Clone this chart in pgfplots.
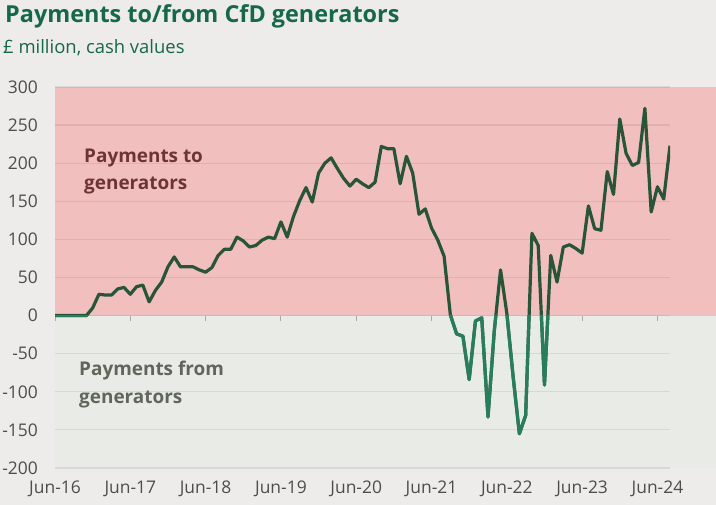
\documentclass[border=0pt]{standalone}
\usepackage{pgfplots}
\pgfplotsset{compat=1.18}
\usepackage{pgfplotstable}
\usepackage{fontspec}
\setmainfont{Open Sans}
\definecolor{figbg}{RGB}{238,236,234}
\definecolor{posbg}{RGB}{242,191,191}
\definecolor{negbg}{RGB}{233,236,230}
\definecolor{titlegreen}{RGB}{22,104,74}
\definecolor{ticktext}{RGB}{77,77,77}
\definecolor{tolabel}{RGB}{110,52,52}
\definecolor{fromlabel}{RGB}{95,102,92}
\definecolor{linedark}{RGB}{40,84,56}
\definecolor{linelight}{RGB}{40,125,92}
\definecolor{tickgray}{RGB}{170,170,170}

\pgfplotstableread{
m v
0 0
1 0
2 0
3 0
4 0
5 0
6 10
7 28
8 27
9 27
10 35
11 37
12 28
13 38
14 40
15 18
16 33
17 44
18 64
19 77
20 64
21 64
22 64
23 60
24 57
25 63
26 79
27 87
28 87
29 103
30 98
31 90
32 92
33 99
34 103
35 101
36 123
37 103
38 130
39 151
40 168
41 149
42 187
43 200
44 207
45 193
46 180
47 170
48 179
49 173
50 168
51 175
52 222
53 219
54 219
55 173
56 209
57 187
58 133
59 140
60 115
61 99
62 78
63 1
64 -24
65 -27
66 -84
67 -7
68 -3
69 -133
70 -20
71 60
72 3
73 -80
74 -155
75 -131
76 108
77 92
78 -91
79 79
80 44
81 90
82 93
83 88
84 82
85 144
86 114
87 112
88 189
89 159
90 258
91 213
92 197
93 201
94 272
95 136
96 169
97 153
98 223
}\datatable

\begin{document}
\begin{tikzpicture}
\fill[figbg] (0bp,0bp) rectangle (716bp,505bp);
\fill[posbg] (55bp,189.4bp) rectangle (716bp,418bp);
\fill[negbg] (55bp,37bp) rectangle (716bp,189.4bp);
\begin{axis}[
  at={(55bp,37bp)}, anchor=south west,
  scale only axis, width=615bp, height=381bp,
  xmin=0, xmax=98, ymin=-200, ymax=300,
  axis line style={draw=none},
  major tick style={draw=none},
  ytick={-200,-150,-100,-50,0,50,100,150,200,250,300},
  xtick={0,12,24,36,48,60,72,84,96},
  xticklabels={Jun-16,Jun-17,Jun-18,Jun-19,Jun-20,Jun-21,Jun-22,Jun-23,Jun-24},
  ymajorgrids,
  grid style={black, opacity=0.08, line width=1.2bp},
  /pgf/number format/assume math mode=true,
  ticklabel style={font=\fontsize{17.5}{17.5}\selectfont, text=ticktext},
  yticklabel style={inner sep=0pt, anchor=east, xshift=-17bp},
  xticklabel style={inner sep=0pt, anchor=north, yshift=-13bp},
  scaled y ticks=false,
]
\addplot[linedark, line width=3.2bp, line join=round, no marks] table[x=m, y=v] {\datatable};
\pgfplotsinvokeforeach{0,12,24,36,48,60,72,84,96}{
  \draw[tickgray, line width=0.9bp] (axis cs:#1,0) -- ++(0pt,-5bp);
}
\end{axis}
\begin{axis}[
  at={(55bp,37bp)}, anchor=south west,
  scale only axis, width=615bp, height=152.4bp,
  xmin=0, xmax=98, ymin=-200, ymax=0,
  hide axis,
]
\addplot[linelight, line width=3.2bp, line join=round, no marks] table[x=m, y=v] {\datatable};
\end{axis}
\node[anchor=base west, inner sep=0pt, font=\bfseries\fontsize{23.5}{23.5}\selectfont, text=titlegreen] at (5bp,482bp) {Payments to/from CfD generators};
\node[anchor=base west, inner sep=0pt, font=\fontsize{18.5}{18.5}\selectfont, text=titlegreen] at (3bp,451bp) {£ million, cash values};
\node[anchor=base west, inner sep=0pt, font=\bfseries\fontsize{19}{19}\selectfont, text=tolabel] at (84bp,342bp) {Payments to};
\node[anchor=base west, inner sep=0pt, font=\bfseries\fontsize{19}{19}\selectfont, text=tolabel] at (84bp,315bp) {generators};
\node[anchor=base west, inner sep=0pt, font=\bfseries\fontsize{19}{19}\selectfont, text=fromlabel] at (79bp,129bp) {Payments from};
\node[anchor=base west, inner sep=0pt, font=\bfseries\fontsize{19}{19}\selectfont, text=fromlabel] at (79bp,101bp) {generators};
\end{tikzpicture}
\end{document}
